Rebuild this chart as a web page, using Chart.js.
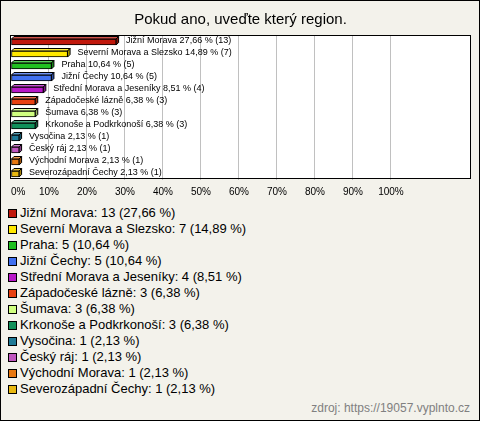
<!DOCTYPE html>
<html>
<head>
<meta charset="utf-8">
<script src="https://cdn.jsdelivr.net/npm/chart.js@4"></script>
<style>
  body { margin:0; width:480px; height:421px; position:relative; font-family:"Liberation Sans", Arial, sans-serif; }
  #ram { position:absolute; left:0; top:0; width:480px; height:421px; box-sizing:border-box; border:1px solid #000; background:#f3f2eb; }
  #graf { position:absolute; left:0; top:0; }
  .rad { position:absolute; left:8px; height:16px; line-height:16px; font-size:13px; color:#000; display:flex; align-items:center; white-space:nowrap; }
  .rad span { display:inline-block; width:7px; height:7px; border:1px solid #000; margin-right:3px; }
  #zdroj { position:absolute; right:10px; top:400px; line-height:16px; font-size:12px; color:#808080; }
</style>
</head>
<body>
<div id="ram"></div>
<canvas id="graf" width="480" height="200"></canvas>
<div id="legenda"></div>
<div id="zdroj">zdroj: https://19057.vyplnto.cz</div>
<script>
// data lest ut fra bildet
const regioner = ["Jižní Morava","Severní Morava a Slezsko","Praha","Jižní Čechy","Střední Morava a Jeseníky","Západočeské lázně","Šumava","Krkonoše a Podkrkonoší","Vysočina","Český ráj","Východní Morava","Severozápadní Čechy"];
const antall = [13,7,5,5,4,3,3,3,1,1,1,1];
const prosent = [27.66,14.89,10.64,10.64,8.51,6.38,6.38,6.38,2.13,2.13,2.13,2.13];
const farger = ["#c0180c","#ffe800","#20c020","#4070f0","#b818c8","#e84010","#d0ff80","#10905a","#1f7a96","#c058c0","#e87810","#e8b810"];
const tittel = "Pokud ano, uveďte který region.";

const fmt = v => v.toFixed(2).replace(".", ",");

// lysere/mørkere farge for 3D-sidene
function skygge(hex, f){
  let n = parseInt(hex.slice(1),16);
  let r=(n>>16)&255, g=(n>>8)&255, b=n&255;
  if(f>0){ r+= (255-r)*f; g+=(255-g)*f; b+=(255-b)*f; }
  else { r*=1+f; g*=1+f; b*=1+f; }
  return "rgb("+Math.round(r)+","+Math.round(g)+","+Math.round(b)+")";
}

// hvit plottflate + ramme + 3D + etiketter
const tegnPlugin = {
  id:"tegn",
  beforeDraw(c){
    const a=c.chartArea, ctx=c.ctx;
    ctx.save();
    ctx.fillStyle="#fff";
    ctx.fillRect(a.left-1, a.top-1, a.right-a.left+1, a.bottom-a.top);
    ctx.restore();
  },
  beforeDatasetsDraw(c){
    const a=c.chartArea, ctx=c.ctx;
    ctx.save();
    ctx.strokeStyle="#000"; ctx.lineWidth=1;
    ctx.strokeRect(a.left-0.5, a.top-0.5, a.right-a.left+1, a.bottom-a.top-1);
    // 3D sider bak søylene
    const d=2.5;
    c.getDatasetMeta(0).data.forEach((el,i)=>{
      const h=el.height, top=el.y-h/2, bot=el.y+h/2, x=el.x, b=el.base;
      ctx.beginPath();
      ctx.moveTo(b,top); ctx.lineTo(b+d,top-d); ctx.lineTo(x+d,top-d); ctx.lineTo(x,top); ctx.closePath();
      ctx.fillStyle=skygge(farger[i],0.25); ctx.fill(); ctx.stroke();
      ctx.beginPath();
      ctx.moveTo(x,top); ctx.lineTo(x+d,top-d); ctx.lineTo(x+d,bot-d); ctx.lineTo(x,bot); ctx.closePath();
      ctx.fillStyle=skygge(farger[i],-0.3); ctx.fill(); ctx.stroke();
    });
    ctx.restore();
  },
  afterDatasetsDraw(c){
    const ctx=c.ctx;
    ctx.save();
    ctx.font="9px 'Liberation Sans', Arial";
    ctx.fillStyle="#000"; ctx.textAlign="left"; ctx.textBaseline="middle";
    c.getDatasetMeta(0).data.forEach((el,i)=>{
      ctx.fillText(regioner[i]+" "+fmt(prosent[i])+" % ("+antall[i]+")", el.x+10, el.y-1);
    });
    // x-akse tekst
    const sx=c.scales.x;
    ctx.font="10px 'Liberation Sans', Arial";
    sx.ticks.forEach(t=>{
      if(t.value>100) return;
      const px=sx.getPixelForValue(t.value);
      ctx.textAlign = t.value===0 ? "left" : "center";
      ctx.fillText(t.value+"%", px, 192);
    });
    ctx.restore();
  }
};

new Chart(document.getElementById("graf"),{
  type:"bar",
  data:{
    labels:regioner,
    datasets:[{
      data:prosent,
      backgroundColor:farger,
      borderColor:"#000",
      borderWidth:1,
      borderSkipped:false,
      barThickness:6
    }]
  },
  options:{
    indexAxis:"y",
    responsive:false,
    animation:false,
    events:[],
    layout:{ padding:{ left:11, right:10, top:0, bottom:0 } },
    plugins:{
      legend:{ display:false },
      tooltip:{ enabled:false },
      title:{
        display:true, text:tittel, color:"#000",
        font:{ size:15, family:"'Liberation Sans', Arial", weight:"normal" },
        padding:{ top:11, bottom:7 }
      }
    },
    scales:{
      x:{
        min:0, max:120.8,
        ticks:{ display:false, stepSize:10 },
        border:{ display:false },
        grid:{ drawTicks:false, color:ctx=> (ctx.tick && ctx.tick.value>0 && ctx.tick.value<=100) ? "#c0c0c0" : "rgba(0,0,0,0)" },
        afterFit:s=>{ s.height=20; }
      },
      y:{ display:false }
    }
  },
  plugins:[tegnPlugin]
});

// legende under grafen
const leg=document.getElementById("legenda");
regioner.forEach((r,i)=>{
  const d=document.createElement("div");
  d.className="rad";
  d.style.top=(205+16*i)+"px";
  const s=document.createElement("span");
  s.style.background=farger[i];
  d.appendChild(s);
  d.appendChild(document.createTextNode(r+": "+antall[i]+" ("+fmt(prosent[i])+" %)"));
  leg.appendChild(d);
});
</script>
</body>
</html>
